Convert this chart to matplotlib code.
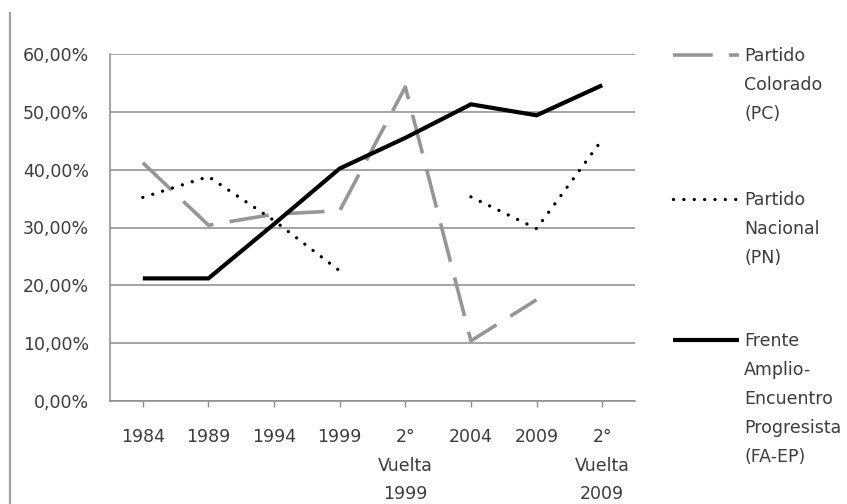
import numpy as np
import matplotlib
matplotlib.use("Agg")
import matplotlib.pyplot as plt
from matplotlib.lines import Line2D
from matplotlib.ticker import FuncFormatter

# Electoral results (% of vote), Uruguay
elecciones = ["1984", "1989", "1994", "1999", "2°\nVuelta\n1999",
              "2004", "2009", "2°\nVuelta\n2009"]
pc = [41.2, 30.4, 32.3, 32.9, 54.3, 10.4, 17.5, np.nan]
pn = [35.2, 38.8, 31.2, 22.5, np.nan, 35.3, 29.8, 45.2]
fa = [21.2, 21.2, 30.6, 40.2, 45.5, 51.3, 49.4, 54.6]

etiquetas = ["Partido\nColorado\n(PC)",
             "Partido\nNacional\n(PN)",
             "Frente\nAmplio-\nEncuentro\nProgresista\n(FA-EP)"]

TEXT = "#3c3c3c"
GRID = "#8c8c8c"
FS = 12.5

estilos = [
    dict(color="#969696", lw=2.6, linestyle=(0, (11, 4.5)), dash_capstyle="butt"),
    dict(color="black", lw=2.4, linestyle=(0, (0.01, 3.1)), dash_capstyle="round"),
    dict(color="black", lw=3.0, linestyle="-", solid_capstyle="butt"),
]

W, H = 847, 504
fig = plt.figure(figsize=(W / 100, H / 100), dpi=100)
ax = fig.add_axes([110 / W, 1 - 401 / H, 525 / W, 347 / H])

x = np.arange(len(elecciones))
for serie, est, z in zip([pc, pn, fa], estilos, [3, 3, 4]):
    ax.plot(x, serie, solid_joinstyle="miter", zorder=z, **est)

ax.set_xlim(-0.5, len(elecciones) - 0.5)
ax.set_ylim(0, 60)
ax.set_yticks(np.arange(0, 61, 10))
ax.yaxis.set_major_formatter(FuncFormatter(lambda v, p: f"{v:.2f}%".replace(".", ",")))
ax.set_xticks(x)
ax.set_xticklabels(elecciones, linespacing=1.75)

ax.grid(axis="y", color=GRID, lw=1.1)
ax.set_axisbelow(True)
for s in ["top", "right"]:
    ax.spines[s].set_visible(False)
for s in ["left", "bottom"]:
    ax.spines[s].set_color(GRID)
    ax.spines[s].set_linewidth(1.1)

ax.tick_params(axis="y", length=0, pad=15, labelsize=FS, labelcolor=TEXT)
ax.tick_params(axis="x", length=4.5, width=1.0, color=GRID, pad=15,
               labelsize=FS, labelcolor=TEXT)

# frame line on the far left
fig.add_artist(Line2D([10 / W, 10 / W], [0, 1 - 13 / H], color="#a0a0a0",
                      lw=1.6, transform=fig.transFigure))

# legend entries: sample line beside the first text line
for est, texto, yc in zip(estilos, etiquetas, [55, 199, 340]):
    fig.add_artist(Line2D([673 / W, 739 / W], [1 - yc / H, 1 - yc / H],
                          transform=fig.transFigure, **est))
    fig.text(744 / W, 1 - (yc - 8) / H, texto, ha="left", va="top",
             fontsize=FS, color=TEXT, linespacing=1.78)

fig.savefig("out.png", dpi=100, facecolor="white")
